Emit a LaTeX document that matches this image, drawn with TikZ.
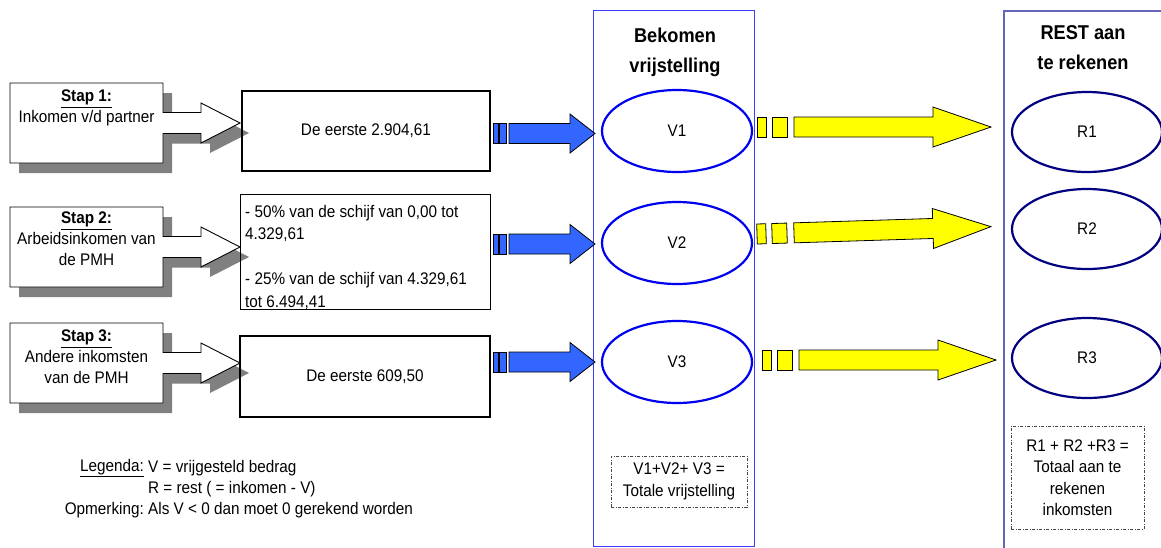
\documentclass[tikz,border=0pt]{standalone}
\usepackage{fontspec}
\setmainfont{Liberation Sans}[FakeStretch=0.91]
\usetikzlibrary{shapes.geometric,calc}
\definecolor{colblue}{RGB}{60,60,255}
\definecolor{restcol}{RGB}{100,100,185}
\definecolor{vblue}{RGB}{0,0,240}
\definecolor{rnavy}{RGB}{0,0,128}
\definecolor{arrblue}{RGB}{51,102,255}
\definecolor{shgrey}{RGB}{128,128,128}
\definecolor{yel}{RGB}{255,255,0}
\definecolor{dashgrey}{RGB}{70,70,70}
\begin{document}
\begin{tikzpicture}[x=1pt,y=-1pt,
  txt/.style={font=\fontsize{16.8}{21}\selectfont, inner sep=0pt},
  hdr/.style={font=\fontsize{20}{30}\selectfont\bfseries, inner sep=0pt, align=center},
  stapshape/.style={fill=white, draw=black, line width=0.9pt},
  stapshadow/.style={fill=shgrey, draw=none},
  midthick/.style={draw=black, line width=2pt, minimum width=248, minimum height=80, inner sep=0pt},
  bluearrow/.style={fill=arrblue, draw=black, line width=0.8pt},
  yelarrow/.style={fill=yel, draw=black, line width=0.8pt},
  vell/.style={ellipse, draw=vblue, line width=2.2pt, minimum width=150, minimum height=82, inner sep=0pt, font=\fontsize{16.8}{21}\selectfont},
  rell/.style={ellipse, draw=rnavy, line width=2.2pt, minimum width=150, minimum height=80, inner sep=0pt, font=\fontsize{16.8}{21}\selectfont},
  sumbox/.style={draw=dashgrey, line width=0.7pt, dash pattern=on 3pt off 1.5pt on 1pt off 1.5pt, align=center, inner sep=0pt, font=\fontsize{16.8}{21.5}\selectfont}
]
\useasboundingbox (0,0) rectangle (1161,547);
\fill[white] (0,0) rectangle (1161,547);

% columns
\node[draw=colblue, line width=1pt, minimum width=161, minimum height=536, inner sep=0pt, anchor=north west] (colV) at (593,10) {};
\node[draw=restcol, line width=1.5pt, minimum width=180, minimum height=545, inner sep=0pt, anchor=north west] (colR) at (1003,10) {};
\node[hdr] (hV) at (675,52) {Bekomen\\vrijstelling};
\node[hdr] (hR) at (1083,47.5) {REST aan\\te rekenen};

% stap shapes
\foreach \yc/\n in {123/1, 247/2, 363/3}{
  \fill[stapshadow] ($(10,\yc-40)+(9,10)$) -- ++(153,0) -- ++(0,29.5) -- ++(38,0) -- ++(0,-9.5) -- ++(39,20) -- ++(-39,20) -- ++(0,-9.5) -- ++(-38,0) -- ++(0,29.5) -- ++(-153,0) -- cycle;
  \draw[stapshape] (10,\yc-40) -- ++(153,0) -- ++(0,29.5) -- ++(38,0) -- ++(0,-9.5) -- ++(39,20) -- ++(-39,20) -- ++(0,-9.5) -- ++(-38,0) -- ++(0,29.5) -- ++(-153,0) -- cycle;
}
\node[txt, align=center, anchor=north] (s1) at (86.5,90) {\underline{\textbf{Stap 1:}}\\Inkomen v/d partner};
\node[txt, align=center, anchor=north] (s2) at (86.5,212) {\underline{\textbf{Stap 2:}}\\Arbeidsinkomen van\\de PMH};
\node[txt, align=center, anchor=north] (s3) at (86.5,330) {\underline{\textbf{Stap 3:}}\\Andere inkomsten\\van de PMH};

% middle boxes
\node[midthick, txt, minimum width=248, minimum height=80] (b1) at (366,131) {De eerste 2.904,61};
\node[draw=black, line width=1pt, minimum width=250, minimum height=115, inner sep=0pt, anchor=north west] (b2) at (240,194) {};
\begin{scope}
  \clip (240,194) rectangle (490,308.5);
  \node[txt, anchor=west] at (245,213) {- 50\% van de schijf van 0,00 tot};
  \node[txt, anchor=west] at (245,235) {4.329,61};
  \node[txt, anchor=west] at (245,280) {- 25\% van de schijf van 4.329,61};
  \node[txt, anchor=west] at (245,303) {tot 6.494,41};
\end{scope}
\draw[black, line width=1pt] (240,309) -- (490,309);
\node[midthick, txt, minimum width=250, minimum height=81] (b3) at (365,376.5) {De eerste 609,50};

% V ellipses
\node[vell] (v1) at (677,131) {V1};
\node[vell] (v2) at (677,243) {V2};
\node[vell] (v3) at (677,362) {V3};

% R ellipses
\node[rell] (r1) at (1087,132) {R1};
\node[rell] (r2) at (1087,229) {R2};
\node[rell] (r3) at (1087,358) {R3};

% blue arrows
\foreach \yc in {133.5, 244, 362}{
  \draw[bluearrow] (493,\yc-10) rectangle (498,\yc+10);
  \draw[bluearrow] (499.5,\yc-10) rectangle (506,\yc+10);
  \draw[bluearrow] (509,\yc-10) -- (570,\yc-10) -- (570,\yc-19.5) -- (595,\yc) -- (570,\yc+19.5) -- (570,\yc+10) -- (509,\yc+10) -- cycle;
}

% yellow arrows
\foreach \xo/\yc/\rot in {0/127/0, 0/234/1.8, 5/360/0}{
  \begin{scope}[shift={(757+\xo,\yc)}, rotate=\rot]
  \draw[yelarrow] (0,-10) rectangle (9,10);
  \draw[yelarrow] (15,-10) rectangle (30,10);
  \draw[yelarrow] (37,-10) -- (176,-10) -- (176,-20) -- (234,0) -- (176,20) -- (176,10) -- (37,10) -- cycle;
  \end{scope}
}

% sum boxes
\node[sumbox, minimum width=136, minimum height=51] (sv) at (679,481.5) {V1+V2+ V3 =\\Totale vrijstelling};
\node[sumbox, minimum width=133, minimum height=103] (sr) at (1077.5,477.5) {R1 + R2 +R3 =\\Totaal aan te\\rekenen\\inkomsten};

% legend
\node[txt, anchor=east] (lg) at (144,468) {\underline{Legenda:}};
\node[txt, anchor=west] (l1) at (148,468) {V = vrijgesteld bedrag};
\node[txt, anchor=west] (l2) at (148,489) {R = rest ( = inkomen - V)};
\node[txt, anchor=east] (om) at (144,510) {Opmerking:};
\node[txt, anchor=west] (l3) at (148,510) {Als V < 0 dan moet 0 gerekend worden};
\end{tikzpicture}
\end{document}
